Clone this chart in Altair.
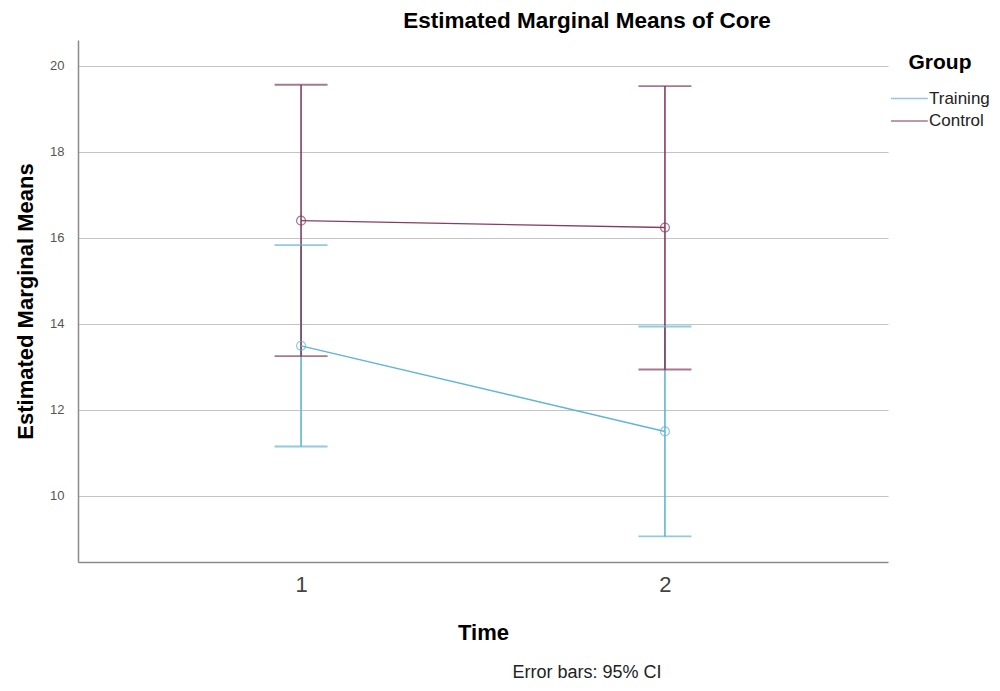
import altair as alt
import pandas as pd

# ---- data ----
times = [1, 2]
groups = ["Training", "Control"]
training_mean = [13.49, 11.50]
training_lower = [11.15, 9.06]
training_upper = [15.83, 13.94]
control_mean = [16.40, 16.24]
control_lower = [13.25, 12.94]
control_upper = [19.56, 19.53]
y_ticks = [10, 12, 14, 16, 18, 20]
x_ticks = [1, 2]
colors = ["#5fb5d5", "#843e60"]

rows = []
for g, m, lo, hi in [
    ("Training", training_mean, training_lower, training_upper),
    ("Control", control_mean, control_lower, control_upper),
]:
    for t, mv, l, h in zip(times, m, lo, hi):
        rows.append({"Time": t, "Group": g, "mean": mv, "lower": l, "upper": h})
df = pd.DataFrame(rows)

FONT = "Liberation Sans"

x_enc = alt.X(
    "Time:Q",
    scale=alt.Scale(domain=[0.387, 2.613], nice=False, zero=False),
    axis=alt.Axis(
        values=x_ticks, format="d", grid=False, ticks=False,
        labelFontSize=22, labelColor="#444444", labelPadding=12,
        title="Time", titleFontSize=22, titleFontWeight="bold",
        titleColor="#000000", titlePadding=27,
        domainColor="#8a8a8a", domainWidth=1.5,
    ),
)
y_scale = alt.Scale(domain=[8.465, 20.6], nice=False, zero=False)
y_axis = alt.Axis(
    values=y_ticks, grid=True, gridColor="#c4c4c4", gridWidth=1,
    ticks=False, labelFontSize=13, labelColor="#555555", labelPadding=14,
    title="Estimated Marginal Means", titleFontSize=22, titleFontWeight="bold",
    titleColor="#000000", titlePadding=12,
    domainColor="#8a8a8a", domainWidth=1.5,
)
color_scale = alt.Scale(domain=groups, range=colors)
color_enc = alt.Color(
    "Group:N", scale=color_scale, sort=groups,
    legend=alt.Legend(
        orient="none", legendX=812, legendY=12,
        title="Group", titleFontSize=21, titleFontWeight="bold",
        titleColor="#000000", titleAnchor="middle", titlePadding=13,
        symbolType="M-1,0H2.2", symbolSize=529, symbolStrokeWidth=1.4,
        symbolFillColor="transparent",
        labelFontSize=17, labelColor="#222222", labelOffset=14,
        rowPadding=1.5,
    ),
)

base = alt.Chart(df)

lines = base.mark_line(strokeWidth=1.4).encode(
    x=x_enc,
    y=alt.Y("mean:Q", scale=y_scale, axis=y_axis),
    color=color_enc,
)

points = base.mark_point(shape="circle", filled=False, size=80, strokeWidth=1.2).encode(
    x="Time:Q",
    y="mean:Q",
    color=color_enc,
)

bars = base.mark_rule(strokeWidth=1.6).encode(
    x="Time:Q",
    y="lower:Q",
    y2="upper:Q",
    color=color_enc,
)

cap_lo = base.mark_tick(orient="horizontal", size=53, thickness=1.8).encode(
    x="Time:Q",
    y="lower:Q",
    color=color_enc,
)
cap_hi = base.mark_tick(orient="horizontal", size=53, thickness=1.8).encode(
    x="Time:Q",
    y="upper:Q",
    color=color_enc,
)

note = alt.Chart(pd.DataFrame({"t": ["Error bars: 95% CI"]})).mark_text(
    font=FONT, fontSize=18, color="#222222", align="center", baseline="middle"
).encode(x=alt.value(509), y=alt.value(633), text="t:N")

chart = alt.layer(bars, cap_lo, cap_hi, lines, points, note).properties(
    width=810,
    height=522,
    autosize=alt.AutoSizeParams(type="none"),
    padding={"left": 70, "top": 32, "right": 104, "bottom": 121},
    title=alt.TitleParams(
        "Estimated Marginal Means of Core", fontSize=22.5, fontWeight="bold",
        font=FONT, color="#000000", anchor="middle", dx=104, offset=8,
    ),
).configure(font=FONT).configure_view(stroke=None)

chart.save("out.html", embed_options={"renderer": "svg", "actions": False})
